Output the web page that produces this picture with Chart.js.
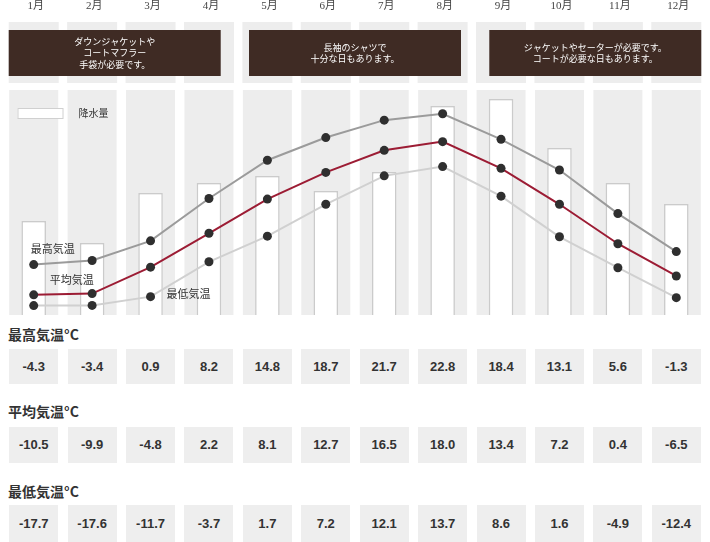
<!DOCTYPE html>
<html lang="ja">
<head>
<meta charset="utf-8">
<script src="https://cdn.jsdelivr.net/npm/chart.js@4.4.0/dist/chart.umd.min.js"></script>
<style>
    body { margin: 0; background: #fff; color: #333; font-family: "Noto Sans CJK JP", "Liberation Sans", sans-serif; }
    #wrap { position: relative; width: 710px; height: 542px; overflow: hidden; }
    #chart { position: absolute; left: 0; top: 0; }
    .head { position: absolute; left: 8px; font-size: 14px; font-weight: bold; line-height: 18px; white-space: nowrap; }
    .cell { position: absolute; width: 49px; background: #eeeeee; text-align: center;
            font-family: "Liberation Sans", Arial, sans-serif; font-weight: bold; font-size: 13px; color: #333; }
</style>
</head>
<body>
<div id="wrap">
    <canvas id="chart" width="710" height="320"></canvas>
</div>
<script>
const months = ['1月', '2月', '3月', '4月', '5月', '6月', '7月', '8月', '9月', '10月', '11月', '12月'];

// temperatures (°C) as printed in the table
const maxTemp = [-4.3, -3.4, 0.9, 8.2, 14.8, 18.7, 21.7, 22.8, 18.4, 13.1, 5.6, -1.3];
const avgTemp = [-10.5, -9.9, -4.8, 2.2, 8.1, 12.7, 16.5, 18.0, 13.4, 7.2, 0.4, -6.5];
const minTemp = [-17.7, -17.6, -11.7, -3.7, 1.7, 7.2, 12.1, 13.7, 8.6, 1.6, -4.9, -12.4];

// precipitation (mm) - no axis in the original
const precip = [94, 72, 122, 132, 139, 124, 143, 209, 216, 167, 132, 111];

// clothing advice, one box per season group
const adviceFrom = [0, 4, 8];
const adviceTo = [3, 7, 11];
const adviceText = [
    ['ダウンジャケットや', 'コートマフラー', '手袋が必要です。'],
    ['長袖のシャツで', '十分な日もあります。'],
    ['ジャケットやセーターが必要です。', 'コートが必要な日もあります。']
];

const tableRows = [
    { title: '最高気温°C', values: maxTemp },
    { title: '平均気温°C', values: avgTemp },
    { title: '最低気温°C', values: minTemp }
];

// The original squeezes the cold part of the temperature scale.
// Piecewise-linear warp: below zero each degree takes less room.
const warpT = [-24, -18, -10, -4, 0, 27];
const warpW = [-11.885, -10.34, -8.28, -2.93, 0, 27];

function interp(v, xs, ys) {
    if (v <= xs[0]) return ys[0] + (v - xs[0]) * (ys[1] - ys[0]) / (xs[1] - xs[0]);
    for (let i = 1; i < xs.length; i++) {
        if (v <= xs[i]) {
            return ys[i - 1] + (v - xs[i - 1]) * (ys[i] - ys[i - 1]) / (xs[i] - xs[i - 1]);
        }
    }
    const n = xs.length - 1;
    return ys[n] + (v - xs[n]) * (ys[n] - ys[n - 1]) / (xs[n] - xs[n - 1]);
}

class WarpedScale extends Chart.LinearScale {
    getPixelForValue(value) {
        const a = interp(this.min, warpT, warpW);
        const b = interp(this.max, warpT, warpW);
        return this.getPixelForDecimal((interp(value, warpT, warpW) - a) / (b - a));
    }
    getValueForPixel(pixel) {
        const a = interp(this.min, warpT, warpW);
        const b = interp(this.max, warpT, warpW);
        return interp(a + this.getDecimalForPixel(pixel) * (b - a), warpW, warpT);
    }
}
WarpedScale.id = 'warped';
WarpedScale.defaults = Chart.LinearScale.defaults;
Chart.register(WarpedScale);

const jpFont = '"Noto Sans CJK JP", "Liberation Sans", sans-serif';

const decor = {
    id: 'decor',
    beforeDatasetsDraw(chart) {
        const { ctx, chartArea } = chart;
        const x = chart.scales.x;
        ctx.save();

        // month labels along the top
        ctx.fillStyle = '#444';
        ctx.font = '11px "Liberation Serif", "Noto Sans CJK JP", serif';
        ctx.textAlign = 'center';
        ctx.textBaseline = 'middle';
        months.forEach((m, i) => ctx.fillText(m, x.getPixelForValue(i) + 2, 6));

        // grey month columns, top strip and plot area
        ctx.fillStyle = '#ededed';
        months.forEach((m, i) => {
            const cx = x.getPixelForValue(i);
            ctx.fillRect(cx - 24.5, chartArea.top, 49, chartArea.bottom - chartArea.top);
            ctx.fillRect(cx - 25, 22, 50, 61);
        });

        // advice boxes
        const boxW = 212;
        adviceText.forEach((lines, g) => {
            const x0 = x.getPixelForValue(adviceFrom[g]);
            const x1 = x.getPixelForValue(adviceTo[g]);
            let left;
            if (g === 0) left = x0 - 25;
            else if (g === adviceText.length - 1) left = x1 + 25 - boxW;
            else left = (x0 + x1) / 2 - boxW / 2;
            ctx.fillStyle = '#3f2b24';
            ctx.fillRect(left, 30, boxW, 46);
            ctx.fillStyle = '#ffffff';
            ctx.font = '9px ' + jpFont;
            ctx.textAlign = 'center';
            ctx.textBaseline = 'middle';
            const lh = 11.5;
            const y0 = 53 - (lines.length - 1) * lh / 2;
            lines.forEach((t, k) => ctx.fillText(t, left + boxW / 2, y0 + k * lh));
        });

        // legend for precipitation
        ctx.fillStyle = '#ffffff';
        ctx.strokeStyle = '#d0d0d0';
        ctx.lineWidth = 1;
        ctx.fillRect(chartArea.left + 13, chartArea.top + 18, 45, 10);
        ctx.strokeRect(chartArea.left + 13.5, chartArea.top + 18.5, 45, 10);
        ctx.fillStyle = '#333';
        ctx.font = '10px ' + jpFont;
        ctx.textAlign = 'left';
        ctx.textBaseline = 'middle';
        ctx.fillText('降水量', chartArea.left + 74, chartArea.top + 23);
        ctx.restore();
    },
    afterDatasetsDraw(chart) {
        const { ctx } = chart;
        const ptMax = chart.getDatasetMeta(1).data[0];
        const ptAvg = chart.getDatasetMeta(2).data[0];
        const ptMin = chart.getDatasetMeta(3).data[2];
        ctx.save();
        ctx.fillStyle = '#333';
        ctx.font = '11px ' + jpFont;
        ctx.textAlign = 'left';
        ctx.textBaseline = 'middle';
        ctx.fillText('最高気温', ptMax.x - 3, ptMax.y - 16);
        ctx.fillText('平均気温', ptAvg.x + 16, ptAvg.y - 15);
        ctx.fillText('最低気温', ptMin.x + 16, ptMin.y - 3);
        ctx.restore();
    }
};

function lineSet(label, data, color, order) {
    return {
        type: 'line',
        label: label,
        data: data,
        yAxisID: 'yTemp',
        borderColor: color,
        borderWidth: 2,
        pointRadius: 4.5,
        pointBackgroundColor: '#2f2f2f',
        pointBorderWidth: 0,
        tension: 0,
        order: order
    };
}

const chart = new Chart(document.getElementById('chart'), {
    data: {
        labels: months,
        datasets: [
            {
                type: 'bar',
                label: '降水量',
                data: precip,
                yAxisID: 'yRain',
                backgroundColor: '#ffffff',
                borderColor: '#cbcbcb',
                borderWidth: 1.5,
                borderSkipped: 'bottom',
                categoryPercentage: 1,
                barPercentage: 0.42,
                order: 10
            },
            lineSet('最高気温', maxTemp, '#9b9b9b', 2),
            lineSet('平均気温', avgTemp, '#9c1c34', 1),
            lineSet('最低気温', minTemp, '#d0d0d0', 3)
        ]
    },
    options: {
        responsive: false,
        animation: false,
        layout: { padding: { left: 3, right: 3, top: 90, bottom: 5 } },
        plugins: { legend: { display: false }, tooltip: { enabled: false } },
        scales: {
            x: { type: 'category', display: false, offset: true },
            yTemp: { type: 'warped', axis: 'y', position: 'left', display: false, min: -24, max: 26.9 },
            yRain: { type: 'linear', axis: 'y', position: 'right', display: false, min: 0, max: 225 }
        }
    },
    plugins: [decor]
});

// value table below the chart, aligned on the chart's month columns
function buildTable() {
    const wrap = document.getElementById('wrap');
    const x = chart.scales.x;
    const headTop = [325, 402, 482];
    const boxTop = [349, 427, 505];
    const boxH = [35, 36, 37];
    tableRows.forEach((row, r) => {
        const h = document.createElement('div');
        h.className = 'head';
        h.style.top = headTop[r] + 'px';
        h.textContent = row.title;
        wrap.appendChild(h);
        row.values.forEach((v, i) => {
            const c = document.createElement('div');
            c.className = 'cell';
            c.style.left = (x.getPixelForValue(i) - 24.5) + 'px';
            c.style.top = boxTop[r] + 'px';
            c.style.height = boxH[r] + 'px';
            c.style.lineHeight = boxH[r] + 'px';
            c.textContent = v.toFixed(1);
            wrap.appendChild(c);
        });
    });
}

buildTable();
</script>
</body>
</html>
